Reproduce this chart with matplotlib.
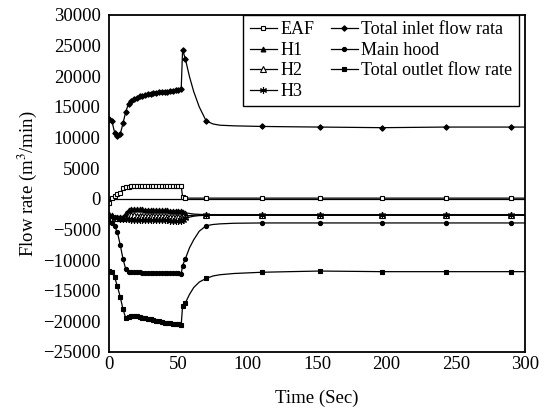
import numpy as np
import matplotlib.pyplot as plt

plt.rcParams['font.family'] = ['Liberation Serif', 'DejaVu Serif']
plt.rcParams['mathtext.fontset'] = 'stix'

# time (s) of each sample
t = [0, 2, 4, 6, 8, 10, 12, 14, 16, 18, 20, 22, 24, 26, 28, 30, 32, 34, 36, 38, 40, 42, 44, 46, 48, 50, 52,
     53, 55, 58, 61, 65, 70, 75, 80, 90, 110, 130, 152, 175, 197, 220, 243, 265, 290, 300]

eaf = [-700, 200, 500, 700, 900, 1700, 1900, 1950, 2000, 2000, 2000, 2000, 2000, 2050, 2050, 2050, 2050, 2050,
       2050, 2100, 2100, 2100, 2100, 2100, 2100, 2100, 2100,
       300, 150, 100, 100, 100, 100, 100, 100, 100, 100, 100, 100, 100, 100, 100, 100, 100, 100, 100]

h1 = [-2500, -2700, -2900, -3000, -3000, -2900, -2400, -1800, -1700, -1700, -1700, -1750, -1750, -1800, -1800,
      -1800, -1850, -1850, -1850, -1900, -1900, -1900, -1950, -1950, -2000, -2000, -2000,
      -2200, -2300, -2400, -2500, -2550, -2600, -2600, -2600, -2600, -2600, -2600, -2600, -2600, -2600, -2600,
      -2600, -2600, -2600, -2600]

h2 = [-3000, -3100, -3100, -3200, -3200, -3100, -3000, -2700, -2700, -2700, -2750, -2750, -2750, -2800, -2800,
      -2800, -2800, -2850, -2850, -2850, -2850, -2900, -2900, -2900, -2900, -2900, -2950,
      -2850, -2800, -2750, -2700, -2650, -2650, -2650, -2650, -2650, -2650, -2650, -2650, -2650, -2650, -2650,
      -2650, -2650, -2650, -2650]

h3 = [-2800, -3000, -3100, -3200, -3300, -3300, -3300, -3350, -3400, -3400, -3400, -3450, -3450, -3450, -3500,
      -3500, -3500, -3500, -3550, -3550, -3550, -3550, -3600, -3600, -3600, -3600, -3650,
      -3400, -3200, -3000, -2850, -2750, -2700, -2700, -2700, -2700, -2700, -2700, -2700, -2700, -2700, -2700,
      -2700, -2700, -2700, -2700]

inlet = [13000, 12700, 10800, 10300, 10500, 12300, 14200, 15500, 16000, 16300, 16500, 16700, 16850, 16950, 17050,
         17150, 17250, 17300, 17350, 17400, 17450, 17500, 17550, 17600, 17700, 17750, 17900,
         24300, 22800, 19900, 17500, 15000, 12700, 12200, 12000, 11900, 11800, 11750, 11700, 11650, 11600, 11650,
         11700, 11700, 11700, 11700]

main_hood = [-3800, -4000, -4500, -5500, -7500, -9800, -11500, -11900, -12000, -12000, -12000, -12000, -12050,
             -12050, -12050, -12100, -12100, -12100, -12100, -12150, -12150, -12150, -12200, -12200, -12200,
             -12200, -12300,
             -10900, -9800, -8000, -6700, -5300, -4400, -4200, -4100, -4000, -3950, -3950, -3950, -3950, -3950,
             -3950, -3950, -3950, -3950, -3950]

outlet = [-11800, -12000, -12800, -14300, -16000, -18000, -19500, -19300, -19100, -19100, -19200, -19300, -19400,
          -19500, -19600, -19700, -19800, -19900, -20000, -20100, -20200, -20300, -20350, -20400, -20450, -20500,
          -20600,
          -17500, -17000, -15600, -14500, -13600, -13000, -12600, -12400, -12200, -12000, -11900, -11800, -11850,
          -11900, -11900, -11900, -11900, -11900, -11900]

# markers drawn on every early sample and only a few later on
tail_marks = [55, 70, 110, 152, 197, 243, 290]
marks = [i for i, s in enumerate(t) if s <= 53 or s in tail_marks]

fig = plt.figure(figsize=(5.51, 4.15), dpi=100)
ax = fig.add_axes([0.198, 0.152, 0.755, 0.812])

ax.axhline(0, color='k', lw=0.9)

series = [
    (eaf, 'EAF', dict(marker='s', ms=3.5, mfc='white')),
    (h1, 'H1', dict(marker='^', ms=3.5)),
    (h2, 'H2', dict(marker='^', ms=4, mfc='white')),
    (h3, 'H3', dict(marker=(6, 2, 0), ms=5)),
    (inlet, 'Total inlet flow rata', dict(marker='D', ms=2.8)),
    (main_hood, 'Main hood', dict(marker='o', ms=3)),
    (outlet, 'Total outlet flow rate', dict(marker='s', ms=3.3)),
]
for vals, name, style in series:
    ax.plot(t, vals, color='k', lw=0.9, mec='k', mew=0.8, markevery=marks, label=name, **style)

ax.set_xlim(0, 300)
ax.set_ylim(-25000, 30000)
ax.set_xticks(np.arange(0, 301, 50))
ax.set_yticks(np.arange(-25000, 30001, 5000))
ax.tick_params(length=0, labelsize=13.5)
ax.tick_params(axis='x', pad=3)
ax.tick_params(axis='y', pad=6)
for sp in ax.spines.values():
    sp.set_linewidth(1.3)

ax.set_xlabel('Time (Sec)', fontsize=13.5, labelpad=12)
ax.set_ylabel('Flow rate (m$^3$/min)', fontsize=13.5, labelpad=3)

leg = ax.legend(ncol=2, loc='upper right', bbox_to_anchor=(0.985, 1.0), borderaxespad=0,
                fontsize=13, fancybox=False, edgecolor='k', framealpha=1,
                handlelength=1.5, handletextpad=0.2, columnspacing=0.9,
                labelspacing=0.2, borderpad=0.35)
leg.get_frame().set_linewidth(1.0)

fig.savefig('out.png', dpi=100)
